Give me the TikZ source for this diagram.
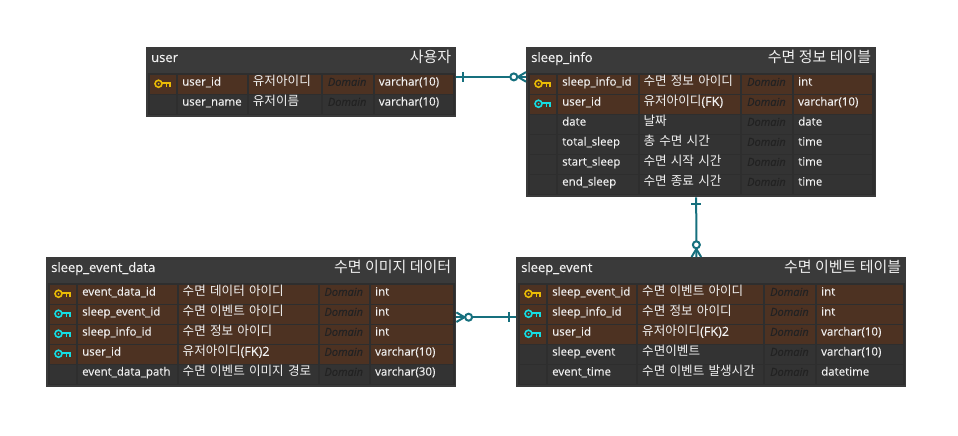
\documentclass[tikz,border=0pt]{standalone}
\usepackage{fontspec}
\setmainfont{Open Sans}[FakeBold=0.25]
\newfontfamily\cjk{Noto Sans CJK KR}

\definecolor{headgray}{HTML}{3A3A3A}
\definecolor{bodygray}{HTML}{2E2E2E}
\definecolor{cellgray}{HTML}{333333}
\definecolor{cellbrown}{HTML}{4D3222}
\definecolor{textwhite}{HTML}{F0F0F0}
\definecolor{domaintext}{HTML}{222222}
\definecolor{keygold}{HTML}{EBBB05}
\definecolor{keycyan}{HTML}{14DDE3}
\definecolor{relteal}{HTML}{16707E}

\tikzset{
  tablebox/.style={anchor=north west,fill=headgray,inner sep=0pt},
  bodybox/.style={anchor=north west,fill=bodygray,inner sep=0pt},
  titlename/.style={anchor=west,text=textwhite,inner sep=0pt,text height=10pt,text depth=3pt,font=\fontsize{13}{16}\selectfont},
  titlekor/.style={anchor=east,text=textwhite,inner sep=0pt,font=\cjk\fontsize{15}{16}\selectfont},
  fieldbox/.style={anchor=north west,inner ysep=0pt,inner xsep=4pt,minimum height=18.3pt,align=left,text=textwhite},
  namecell/.style={fieldbox,text height=7pt,text depth=4.5pt,font=\fontsize{11.5}{14}\selectfont},
  korcell/.style={fieldbox,text height=9pt,text depth=6pt,font=\fontsize{12.6}{14}\selectfont},
  domaincell/.style={fieldbox,xshift=1pt,text=domaintext,text height=9.5pt,text depth=6.5pt,font=\itshape\fontsize{11}{14}\selectfont},
  relline/.style={draw=relteal,line width=2pt},
  keyicon/.pic={
    \draw[pic actions,fill=none,line width=1.6pt] (-4.4,-0.6) circle (3.5);
    \fill[pic actions,draw=none] (-4.4,-0.6) circle (1);
    \draw[pic actions,fill=none,line width=1.6pt] (-1,-1.6) -- (6.8,-1.6) -- (6.8,2.6);
    \draw[pic actions,fill=none,line width=1.6pt] (3.6,-1.6) -- (3.6,2.6);
  },
  onebar/.pic={
    \draw[relline] (0,-5) -- (0,5);
  },
  zeromany/.pic={
    \draw[relline] (-8,0) -- (0,-4.8) (-8,0) -- (0,4.8);
    \draw[relline,fill=white] (-12.2,0) circle (3.5);
  },
}

% one cell: name, left, right, top, style, text
\newcommand{\fieldcell}[6]{
  \pgfmathsetmacro\cellw{#3-#2}
  \pgfmathsetmacro\cellt{#3-#2-8}
  \node[#5,minimum width=\cellw pt,text width=\cellt pt] (#1) at (#2,#4) {#6};
}
% column borders of the current table
\newcommand{\setcols}[6]{
  \def\cola{#1}\def\colb{#2}\def\colc{#3}\def\cold{#4}\def\cole{#5}\def\colf{#6}
}
% one row: id, top, fill, name, korean name, type
\newcommand{\fieldrow}[6]{
  \fieldcell{#1icon}{\cola}{\cola+26}{#2}{fieldbox,fill=#3}{}
  \fieldcell{#1name}{\colb}{\colc-2}{#2}{namecell,fill=#3}{#4}
  \fieldcell{#1kor}{\colc}{\cold-2}{#2}{korcell,fill=#3}{#5}
  \fieldcell{#1dom}{\cold}{\cole-2}{#2}{fieldbox,fill=#3}{}
  \node[domaincell,anchor=west] (#1domtext) at (#1dom.west) {Domain};
  \fieldcell{#1type}{\cole}{\colf}{#2}{namecell,fill=#3}{#6}
}
% table frame: id, left, top, width, height, name, korean title
\newcommand{\ertable}[7]{
  \node[tablebox,minimum width=#4pt,minimum height=#5pt] (#1) at (#2,#3) {};
  \pgfmathsetmacro\bodyh{#5-27.7}
  \pgfmathsetmacro\bodyw{#4-3}
  \node[bodybox,minimum width=\bodyw pt,minimum height=\bodyh pt] (#1body) at (#2+1.5,#3+25.7) {};
  \node[titlename] (#1title) at ([shift={(5,11.5)}]#1.north west) {#6};
  \node[titlekor] (#1kor) at ([shift={(-5,10.3)}]#1.north east) {#7};
}
\newcommand{\keymark}[2]{\pic[draw=#1,fill=#1] at (#2icon) {keyicon};}

\begin{document}
\begin{tikzpicture}[x=1pt,y=-1pt]
  \useasboundingbox (0,0) rectangle (958,436);

  % user
  \ertable{user}{146}{47}{310}{70}{user}{사용자}
  \setcols{149.7}{178}{248.7}{322.7}{374.7}{452.3}
  \fieldrow{ua}{75}{cellbrown}{user\_id}{\cjk 유저아이디}{varchar(10)}
  \fieldrow{ub}{95}{cellgray}{user\_name}{\cjk 유저이름}{varchar(10)}
  \keymark{keygold}{ua}

  % sleep_info
  \ertable{sleepinfo}{526}{47}{350}{150}{sleep\_info}{수면 정보 테이블}
  \setcols{529.7}{558}{639.3}{742}{794}{872}
  \fieldrow{ia}{75}{cellbrown}{sleep\_info\_id}{\cjk 수면 정보 아이디}{int}
  \fieldrow{ib}{95}{cellbrown}{user\_id}{{\cjk 유저아이디}(FK)}{varchar(10)}
  \fieldrow{ic}{115}{cellgray}{date}{\cjk 날짜}{date}
  \fieldrow{id}{135}{cellgray}{total\_sleep}{\cjk 총 수면 시간}{time}
  \fieldrow{ie}{155}{cellgray}{start\_sleep}{\cjk 수면 시작 시간}{time}
  \fieldrow{if}{175}{cellgray}{end\_sleep}{\cjk 수면 종료 시간}{time}
  \keymark{keygold}{ia}
  \keymark{keycyan}{ib}

  % sleep_event_data
  \ertable{eventdata}{46}{257}{410}{130}{sleep\_event\_data}{수면 이미지 데이터}
  \setcols{49.7}{78}{178.5}{319.3}{371}{452.3}
  \fieldrow{da}{285}{cellbrown}{event\_data\_id}{\cjk 수면 데이터 아이디}{int}
  \fieldrow{db}{305}{cellbrown}{sleep\_event\_id}{\cjk 수면 이벤트 아이디}{int}
  \fieldrow{dc}{325}{cellbrown}{sleep\_info\_id}{\cjk 수면 정보 아이디}{int}
  \fieldrow{dd}{345}{cellbrown}{user\_id}{{\cjk 유저아이디}(FK)2}{varchar(10)}
  \fieldrow{de}{365}{cellgray}{event\_data\_path}{\cjk 수면 이벤트 이미지 경로}{varchar(30)}
  \keymark{keygold}{da}
  \keymark{keycyan}{db}
  \keymark{keycyan}{dc}
  \keymark{keycyan}{dd}

  % sleep_event
  \ertable{sleepevent}{516}{257}{390}{130}{sleep\_event}{수면 이벤트 테이블}
  \setcols{519.7}{548}{638}{765}{817}{902.3}
  \fieldrow{ea}{285}{cellbrown}{sleep\_event\_id}{\cjk 수면 이벤트 아이디}{int}
  \fieldrow{eb}{305}{cellbrown}{sleep\_info\_id}{\cjk 수면 정보 아이디}{int}
  \fieldrow{ec}{325}{cellbrown}{user\_id}{{\cjk 유저아이디}(FK)2}{varchar(10)}
  \fieldrow{ed}{345}{cellgray}{sleep\_event}{\cjk 수면이벤트}{varchar(10)}
  \fieldrow{ee}{365}{cellgray}{event\_time}{\cjk 수면 이벤트 발생시간}{datetime}
  \keymark{keygold}{ea}
  \keymark{keycyan}{eb}
  \keymark{keycyan}{ec}

  % relations
  \draw[relline] ([yshift=5.3pt]user.east) -- ([yshift=45.3pt]sleepinfo.west);
  \pic at ([shift={(6.3,-5.3)}]user.east) {onebar};
  \pic at ([yshift=45.3pt]sleepinfo.west) {zeromany};

  \draw[relline] ([xshift=-5pt]sleepinfo.south) -- ([xshift=-14.85pt]sleepevent.north);
  \pic[rotate=90] at ([shift={(-5,7)}]sleepinfo.south) {onebar};
  \pic[rotate=270] at ([xshift=-14.85pt]sleepevent.north) {zeromany};

  \draw[relline] ([yshift=5pt]sleepevent.west) -- ([yshift=5pt]eventdata.east);
  \pic at ([shift={(-7,-5)}]sleepevent.west) {onebar};
  \pic[rotate=180] at ([yshift=5pt]eventdata.east) {zeromany};
\end{tikzpicture}
\end{document}
